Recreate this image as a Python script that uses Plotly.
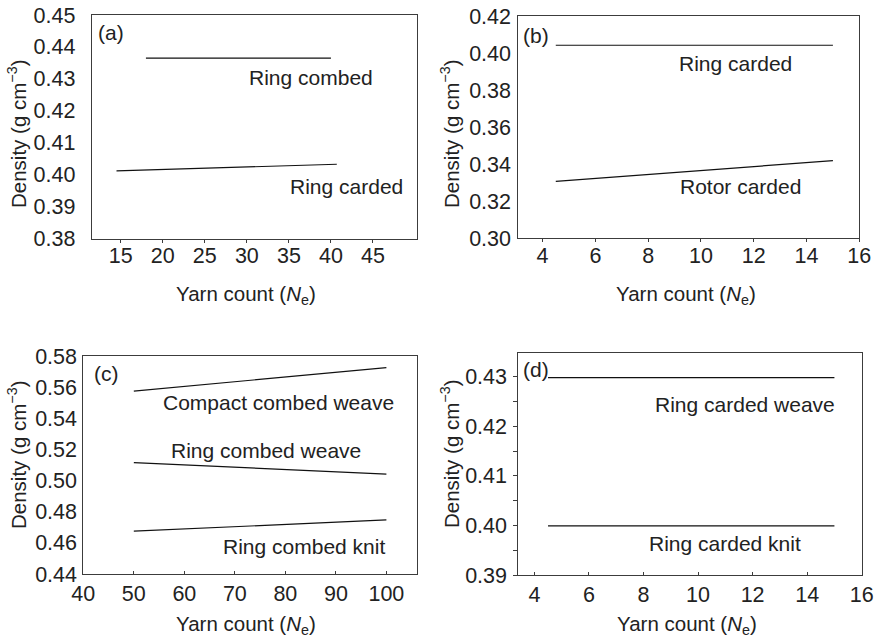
import plotly.graph_objects as go

# ---- data -----------------------------------------------------------------
# (a) yarn count Ne vs density
a_combed_x = [18, 40]
a_combed_y = [0.4365, 0.4365]
a_carded_x = [14.5, 40.7]
a_carded_y = [0.4012, 0.4033]

# (b)
b_ring_x = [4.5, 15]
b_ring_y = [0.4042, 0.4042]
b_rotor_x = [4.5, 15]
b_rotor_y = [0.3306, 0.3418]

# (c)
c_compact_x = [50, 100]
c_compact_y = [0.5575, 0.5725]
c_weave_x = [50, 100]
c_weave_y = [0.5115, 0.5042]
c_knit_x = [50, 100]
c_knit_y = [0.4675, 0.4747]

# (d)
d_weave_x = [4.5, 15]
d_weave_y = [0.4298, 0.4298]
d_knit_x = [4.5, 15]
d_knit_y = [0.3999, 0.3999]

a_ticks = [15, 20, 25, 30, 35, 40, 45]
b_ticks = [4, 6, 8, 10, 12, 14, 16]
c_ticks = [40, 50, 60, 70, 80, 90, 100]
d_ticks = [4, 6, 8, 10, 12, 14, 16]

FONT = "Liberation Sans, Arial, sans-serif"
TXT = "#222222"
FRAME = "#3c3c3c"
FS_TICK = 21.5
FS_NOTE = 21
FS_TITLE = 20.5

W, H = 878, 641

fig = go.Figure()

def line(x, y, xa, ya):
    fig.add_trace(go.Scatter(x=x, y=y, mode="lines", xaxis=xa, yaxis=ya,
                             line=dict(color="#111111", width=1.2),
                             showlegend=False, hoverinfo="skip"))

line(a_combed_x, a_combed_y, "x", "y")
line(a_carded_x, a_carded_y, "x", "y")
line(b_ring_x, b_ring_y, "x2", "y2")
line(b_rotor_x, b_rotor_y, "x2", "y2")
line(c_compact_x, c_compact_y, "x3", "y3")
line(c_weave_x, c_weave_y, "x3", "y3")
line(c_knit_x, c_knit_y, "x3", "y3")
line(d_weave_x, d_weave_y, "x4", "y4")
line(d_knit_x, d_knit_y, "x4", "y4")

def px_x(v):
    return v / W

def px_y(v):
    return 1 - v / H

def xaxis(dom, rng, ticks, anchor, ticks_dir, standoff, labels=True):
    return dict(domain=dom, range=rng, tickvals=ticks, anchor=anchor,
                showline=True, mirror=True, linecolor=FRAME, linewidth=1,
                showgrid=False, zeroline=False, ticks=ticks_dir, ticklen=3,
                tickcolor=FRAME, automargin=False, showticklabels=labels,
                tickfont=dict(family=FONT, size=FS_TICK, color=TXT),
                ticklabelstandoff=standoff, fixedrange=True)

def label_axis(base, dom, rng, ticks, anchor, standoff):
    # companion axis that only carries the tick numbers, so the outward
    # tick marks of the base axis do not push the numbers further down
    return dict(domain=dom, range=rng, tickvals=ticks, anchor=anchor,
                overlaying=base, side="bottom", showline=False,
                showgrid=False, zeroline=False, ticks="", automargin=False,
                tickfont=dict(family=FONT, size=FS_TICK, color=TXT),
                ticklabelstandoff=standoff, fixedrange=True)

def yaxis(dom, rng, dtick, anchor, ticks_dir="", minor=None, standoff=8):
    d = dict(domain=dom, range=rng, dtick=dtick, tick0=0, anchor=anchor,
             tickformat=".2f", showline=True, mirror=True, linecolor=FRAME,
             linewidth=1, showgrid=False, zeroline=False, ticks=ticks_dir,
             ticklen=4, tickcolor=FRAME, automargin=False,
             tickfont=dict(family=FONT, size=FS_TICK, color=TXT),
             ticklabelstandoff=standoff, fixedrange=True)
    if minor:
        d["minor"] = minor
    return d

dom_a = [px_x(91.7), px_x(416.7)]
dom_b = [px_x(518.3), px_x(859.3)]
rng_a = [11.55, 50.2]
rng_b = [3.08, 16]

fig.update_layout(
    width=W, height=H, margin=dict(l=0, r=0, t=0, b=0, pad=0),
    paper_bgcolor="white", plot_bgcolor="white",
    font=dict(family=FONT, size=FS_NOTE, color=TXT),
    xaxis=xaxis(dom_a, rng_a, a_ticks, "y", "outside", 0, labels=False),
    yaxis=yaxis([px_y(238.7), px_y(15)], [0.38, 0.45], 0.01, "x", standoff=11),
    xaxis2=xaxis(dom_b, rng_b, b_ticks, "y2", "outside", 0, labels=False),
    yaxis2=yaxis([px_y(238), px_y(16)], [0.30, 0.42], 0.02, "x2", standoff=2),
    xaxis3=xaxis([px_x(83.3), px_x(416.7)], [40, 106], c_ticks, "y3",
                 "inside", 0),
    yaxis3=yaxis([px_y(574), px_y(356)], [0.44, 0.58], 0.02, "x3", standoff=1),
    xaxis4=xaxis([px_x(518.3), px_x(861.7)], [3.41, 16], d_ticks, "y4",
                 "inside", 0),
    yaxis4=yaxis([px_y(575), px_y(353.3)], [0.39, 0.4347], 0.01, "x4",
                 ticks_dir="outside",
                 minor=dict(dtick=0.005, tick0=0, ticks="outside", ticklen=4,
                            tickcolor=FRAME),
                 standoff=2),
    xaxis5=label_axis("x", dom_a, rng_a, a_ticks, "y", 2),
    xaxis6=label_axis("x2", dom_b, rng_b, b_ticks, "y2", 2),
)

# empty traces attach the label-only axes
fig.add_trace(go.Scatter(x=[], y=[], xaxis="x5", yaxis="y",
                         showlegend=False, hoverinfo="skip"))
fig.add_trace(go.Scatter(x=[], y=[], xaxis="x6", yaxis="y2",
                         showlegend=False, hoverinfo="skip"))

def note(text, x, y, xr, yr, size=FS_NOTE, **kw):
    fig.add_annotation(text=text, x=x, y=y, xref=xr, yref=yr, showarrow=False,
                       xanchor="center", yanchor="middle",
                       font=dict(family=FONT, size=size, color=TXT), **kw)

# curve labels
note("Ring combed", 37.6, 0.4305, "x", "y")
note("Ring carded", 41.9, 0.3963, "x", "y")
note("(a)", 13.8, 0.4444, "x", "y")

note("Ring carded", 11.32, 0.3944, "x2", "y2")
note("Rotor carded", 11.49, 0.3277, "x2", "y2")
note("(b)", 3.75, 0.4097, "x2", "y2")

note("Compact combed weave", 78.6, 0.550, "x3", "y3")
note("Ring combed weave", 76.1, 0.5196, "x3", "y3")
note("Ring combed knit", 83.6, 0.4575, "x3", "y3")
note("(c)", 44.6, 0.5689, "x3", "y3")

note("Ring carded weave", 11.71, 0.4243, "x4", "y4")
note("Ring carded knit", 10.98, 0.3963, "x4", "y4")
note("(d)", 4.05, 0.4314, "x4", "y4")

# axis titles
ytitle = "Density (g cm<sup>\u22123</sup>)"
xtitle = "Yarn count (<i>N</i><sub>e</sub>)"
for cx, cy in [(17, 134), (450, 134), (17, 455), (450, 454)]:
    note(ytitle, px_x(cx), px_y(cy), "paper", "paper", size=FS_TITLE,
         textangle=-90)
for cx, cy in [(246, 295), (686, 295), (246, 625), (687, 625)]:
    note(xtitle, px_x(cx), px_y(cy), "paper", "paper", size=FS_TITLE)

# the page body keeps no default spacing around the figure
fig.write_html("out.html",
               post_script="document.body.style.margin='0';"
                           "document.body.style.overflow='hidden';")
